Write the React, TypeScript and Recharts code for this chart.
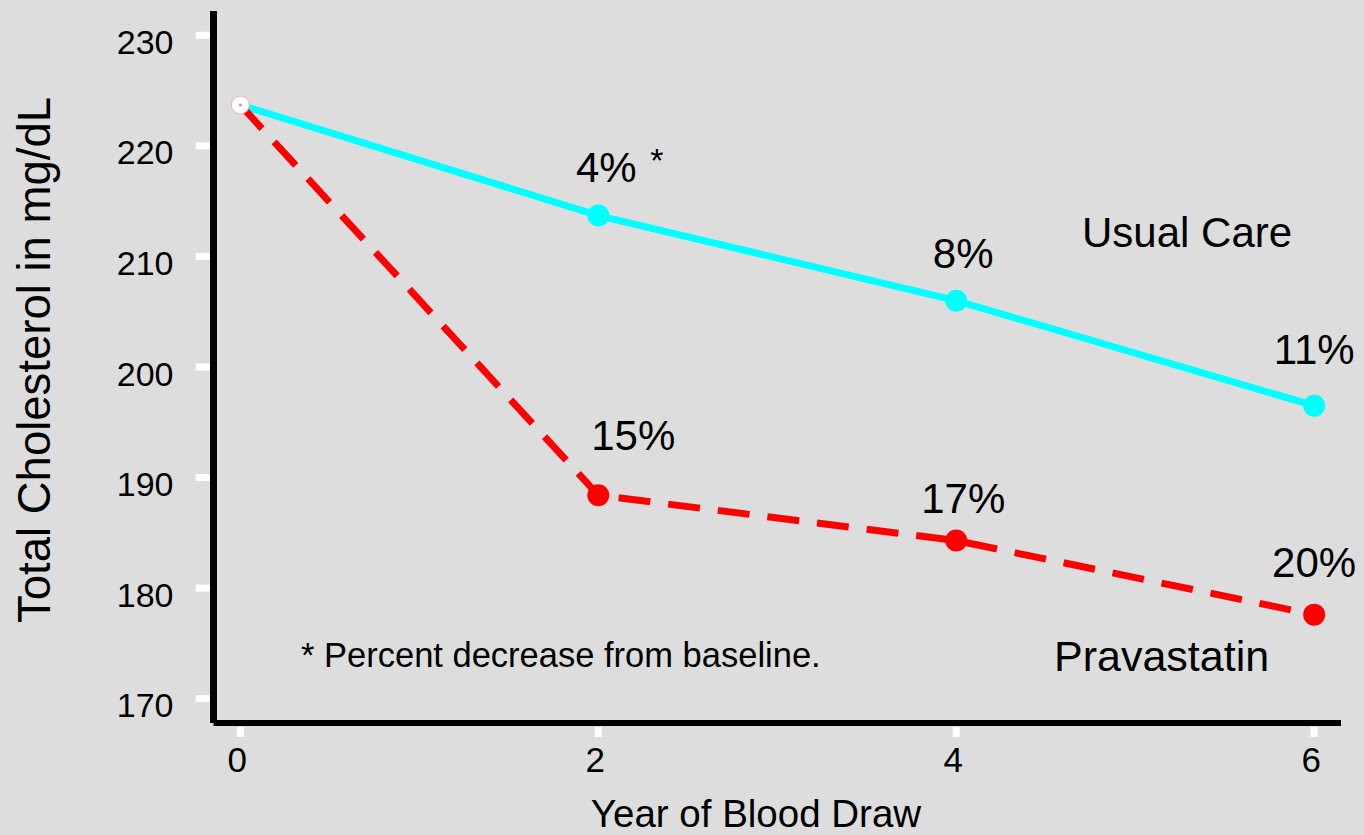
import React from 'react';
import { LineChart, Line, XAxis, YAxis, LabelList, Customized } from 'recharts';

// ---- data ----
const years = [0, 2, 4, 6];
const usualCare = [223.7, 213.7, 206.0, 196.5];
const pravastatin = [223.7, 188.4, 184.3, 177.6];
const usualPct = ['', '4%', '8%', '11%'];
const pravaPct = ['', '15%', '17%', '20%'];
const usualMark = ['', '*', '', ''];
const xTicks = [0, 2, 4, 6];
const yTicks = [170, 180, 190, 200, 210, 220, 230];

const seriesNames = { usual: 'Usual Care', prava: 'Pravastatin' };
const footnote = '* Percent decrease from baseline.';
const xTitle = 'Year of Blood Draw';
const yTitle = 'Total Cholesterol in mg/dL';

const data = years.map((yr, i) => ({
  year: yr,
  usual: usualCare[i],
  prava: pravastatin[i],
  usualPct: usualPct[i],
  pravaPct: pravaPct[i],
}));

// ---- styling ----
const FONT = '"Liberation Sans", Arial, Helvetica, sans-serif';
const BG = '#dddddd';
const CYAN = '#00ffff';
const RED = '#ff0000';

// label offsets (dx, baseline dy) relative to each point
const usualOffsets = [[0, 0], [8, -34], [7, -33], [0, -42]];
const pravaOffsets = [[0, 0], [35, -45], [7, -28], [0, -38]];

const YTick = (props: any) => {
  const { x, y, payload } = props;
  return (
    <g>
      <rect x={x - 17.8} y={y - 3.5} width={14.3} height={7} fill="#ffffff" />
      <text x={x - 40} y={y + 18.5} textAnchor="end" fontSize={34} fontFamily={FONT} fill="#000">
        {payload.value}
      </text>
    </g>
  );
};

const XTick = (props: any) => {
  const { x, y, payload } = props;
  return (
    <g>
      <rect x={x - 3.5} y={y + 4} width={7} height={10} fill="#ffffff" />
      <text x={x - 3} y={y + 49} textAnchor="middle" fontSize={35} fontFamily={FONT} fill="#000">
        {payload.value}
      </text>
    </g>
  );
};

const makeLabel = (offsets: number[][], marks?: string[]) => (props: any) => {
  const { x, y, value, index } = props;
  if (!value) return null;
  const [dx, dy] = offsets[index] || [0, -30];
  const mark = marks ? marks[index] : '';
  return (
    <g>
      <text x={x + dx} y={y + dy} textAnchor="middle" fontSize={42} fontFamily={FONT} fill="#000">
        {value}
      </text>
      {mark ? (
        <text x={x + dx + 44} y={y + dy - 10} textAnchor="start" fontSize={34} fontFamily={FONT} fill="#000">
          {mark}
        </text>
      ) : null}
    </g>
  );
};

const usualDot = (props: any) => {
  const { cx, cy, index } = props;
  if (index === 0) return <g key={`u${index}`} />;
  return <circle key={`u${index}`} cx={cx} cy={cy} r={11} fill={CYAN} />;
};

const pravaDot = (props: any) => {
  const { cx, cy, index } = props;
  if (index === 0)
    return (
      <g key={`p${index}`}>
        <circle cx={cx} cy={cy} r={9} fill="#ffffff" stroke="#ffaaaa" strokeWidth={1} />
        <circle cx={cx} cy={cy} r={1.5} fill="#d88" />
      </g>
    );
  return <circle key={`p${index}`} cx={cx} cy={cy} r={11} fill={RED} />;
};

const Annotations = () => (
  <g fontFamily={FONT} fill="#000">
    <text x={1082} y={247} fontSize={42}>{seriesNames.usual}</text>
    <text x={1054} y={671} fontSize={43}>{seriesNames.prava}</text>
    <text x={301} y={667} fontSize={34.5}>{footnote}</text>
    <text x={756} y={827} fontSize={38.5} textAnchor="middle">{xTitle}</text>
    <text x={50} y={360} fontSize={45.5} textAnchor="middle" transform="rotate(-90, 50, 360)">{yTitle}</text>
  </g>
);

export default function App() {
  return (
    <div style={{ width: 1364, height: 835, background: BG }}>
      <style>{`body{margin:0;background:${BG};}`}</style>
      <LineChart
        width={1364}
        height={835}
        data={data}
        margin={{ top: 11, right: 23, bottom: 52, left: 0 }}
      >
        <XAxis
          dataKey="year"
          type="number"
          domain={[-0.15, 6.15]}
          ticks={xTicks}
          allowDataOverflow
          height={60}
          tickSize={0}
          tickMargin={0}
          tickLine={false}
          axisLine={{ stroke: '#000', strokeWidth: 6 }}
          tick={<XTick />}
          interval={0}
        />
        <YAxis
          type="number"
          domain={[167.8, 232.2]}
          ticks={yTicks}
          allowDataOverflow
          width={213.5}
          tickSize={0}
          tickMargin={0}
          tickLine={false}
          axisLine={{ stroke: '#000', strokeWidth: 7 }}
          tick={<YTick />}
          interval={0}
        />
        <Line
          dataKey="usual"
          stroke={CYAN}
          strokeWidth={7}
          dot={usualDot}
          activeDot={false}
          isAnimationActive={false}
        >
          <LabelList dataKey="usualPct" content={makeLabel(usualOffsets, usualMark)} />
        </Line>
        <Line
          dataKey="prava"
          stroke={RED}
          strokeWidth={7}
          strokeDasharray="32 18"
          dot={pravaDot}
          activeDot={false}
          isAnimationActive={false}
        >
          <LabelList dataKey="pravaPct" content={makeLabel(pravaOffsets)} />
        </Line>
        <Customized component={Annotations} />
      </LineChart>
    </div>
  );
}
